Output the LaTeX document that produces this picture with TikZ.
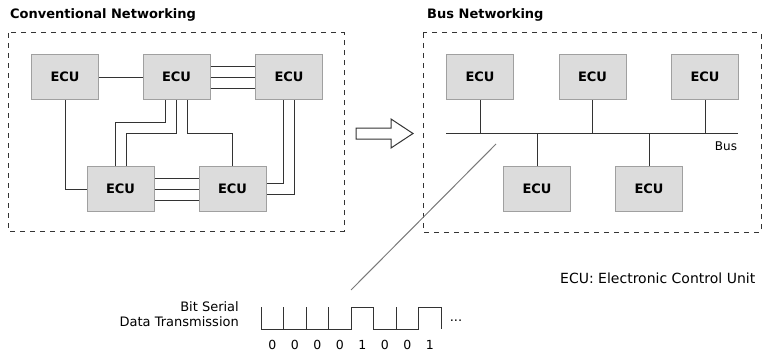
\documentclass[tikz,border=0pt]{standalone}
\usepackage{fontspec}
\setmainfont{DejaVu Sans}
\definecolor{ecufill}{HTML}{DCDCDC}
\definecolor{eculine}{HTML}{A0A0A0}
\definecolor{wirecol}{HTML}{333333}
\definecolor{tapcol}{HTML}{7A7A7A}

\begin{document}
\begin{tikzpicture}[x=1pt,y=-1pt,
  ecu/.style={draw=eculine,fill=ecufill,line width=1pt,minimum width=67pt,
    minimum height=45pt,inner sep=0pt,font=\fontsize{13}{15}\selectfont\bfseries},
  wire/.style={draw=wirecol,line width=1pt},
  dashbox/.style={draw=wirecol,line width=1pt,dash pattern=on 5pt off 5pt},
  heading/.style={font=\fontsize{13}{15}\selectfont\bfseries,anchor=base west,inner sep=0pt},
  txt/.style={font=\fontsize{13}{15}\selectfont,inner sep=0pt}]
\useasboundingbox (0,0) rectangle (762,353);
% conventional networking
\draw[dashbox] (8,33) rectangle (344,231);
\node[heading] (conv) at (10,19) {Conventional Networking};
\node[ecu] (c1) at (65,77) {ECU};
\node[ecu] (c2) at (176.5,77) {ECU};
\node[ecu] (c3) at (289,77) {ECU};
\node[ecu] (c4) at (120.5,189) {ECU};
\node[ecu] (c5) at (232.5,189) {ECU};
\draw[wire] (c1) -- (c2);
\foreach \s in {-11,0,11}
{
  \draw[wire] ([yshift=\s pt]c2.east) -- ([yshift=\s pt]c3.west);
  \draw[wire] ([yshift=\s pt]c4.east) -- ([yshift=\s pt]c5.west);
}
\draw[wire] (c1.south) |- (c4.west);
\draw[wire] ([xshift=-11pt]c2.south) -- ++(0,22.5) -| ([xshift=-5.5pt]c4.north);
\draw[wire] (c2.south) -- ++(0,33.5) -| ([xshift=5.5pt]c4.north);
\draw[wire] ([xshift=11pt]c2.south) -- ++(0,33.5) -| (c5.north);
\draw[wire] ([xshift=-5.5pt]c3.south) |- ([yshift=6pt]c5.east);
\draw[wire] ([xshift=5.5pt]c3.south) |- ([yshift=-5pt]c5.east);
% hollow arrow
\draw[wire,fill=white] (356,128) -- (391,128) -- (391,119) -- (413,133.5)
  -- (391,148) -- (391,139) -- (356,139) -- cycle;
% bus networking
\draw[dashbox] (423,33) rectangle (761,232);
\node[heading] (bus) at (427,19) {Bus Networking};
\node[ecu] (b1) at (480,77) {ECU};
\node[ecu] (b2) at (592.5,77) {ECU};
\node[ecu] (b3) at (705,77) {ECU};
\node[ecu] (b4) at (537,189) {ECU};
\node[ecu] (b5) at (649,189) {ECU};
\coordinate (busl) at (446,133);
\coordinate (busr) at (738,133);
\draw[wire] (busl) -- (busr);
\foreach \n in {b1,b2,b3}
  \draw[wire] (\n.south) -- (\n.south |- busl);
\foreach \n in {b4,b5}
  \draw[wire] (\n.north) -- (\n.north |- busl);
\node[txt,font=\fontsize{12}{14}\selectfont] (buslbl) at (726,146) {Bus};
\node[txt,anchor=west,font=\fontsize{14}{16}\selectfont] (legend) at (560,278) {ECU: Electronic Control Unit};
% bit serial signal
\coordinate (tap) at (496,144);
\coordinate (sig) at (351,290);
\draw[draw=tapcol,line width=1pt] (tap) -- (sig);
\node[txt,align=right,anchor=east] (bits) at (239,314.5) {Bit Serial\\Data Transmission};
\draw[wire] (261,307) -- (261,329) -- (351,329) -- (351,307) -- (373,307) -- (373,329)
  -- (418,329) -- (418,307) -- (441,307) -- (441,329);
\foreach \x in {283.5,306,328.5,396}
  \draw[wire] (\x,329) -- (\x,307);
\node[txt] (more) at (456,321) {...};
\foreach \d [count=\i] in {0,0,0,0,1,0,0,1}
  \node[txt,font=\fontsize{12.5}{14}\selectfont] (d\i) at (249.75+22.5*\i,345) {\d};
\end{tikzpicture}
\end{document}
